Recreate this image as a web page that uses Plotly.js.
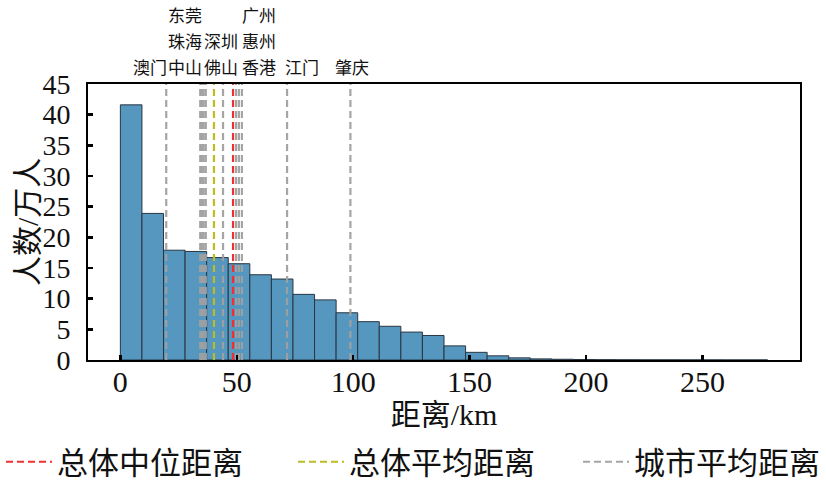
<!DOCTYPE html>
<html>
<head>
<meta charset="utf-8">
<script src="https://cdn.plot.ly/plotly-3.0.1.min.js"></script>
<style>html,body{margin:0;padding:0;background:#fff;}#chart{width:826px;height:486px;}</style>
</head>
<body>
<div id="chart"></div>
<script>
// ---- data ----
var binStart = 0;
var binEnd = 278;
var binCounts = [41.6, 23.9, 17.9, 17.7, 16.7, 15.7, 13.9, 13.2, 10.7, 9.8,
                 7.7, 6.25, 5.5, 4.55, 4.0, 2.3, 1.25, 0.68, 0.35, 0.18,
                 0.12, 0.08, 0.05, 0.03, 0.02, 0.02, 0.01, 0.01, 0.005, 0.005];
var cities = ['澳门', '中山', '珠海', '东莞', '佛山', '深圳', '香港', '惠州', '广州', '江门', '肇庆'];
var cityMeanKm = [19.7, 34.3, 35.0, 35.8, 36.7, 44.1, 49.7, 50.9, 52.2, 71.6, 98.8];
var overallMedianKm = 48.4;
var overallMeanKm = 40.2;
var xTicks = [0, 50, 100, 150, 200, 250];
var yTicks = [0, 5, 10, 15, 20, 25, 30, 35, 40, 45];
var legendNames = ['总体中位距离', '总体平均距离', '城市平均距离'];
var xTitle = '距离/km';
var yTitle = '人数/万人';

// ---- label layout (x in km, row from bottom) ----
var labelPlace = {
  '澳门': [12.6, 0], '中山': [27.6, 0], '佛山': [43.3, 0], '香港': [59.4, 0], '江门': [77.9, 0], '肇庆': [99.6, 0],
  '珠海': [27.6, 1], '深圳': [43.3, 1], '惠州': [59.4, 1],
  '东莞': [27.6, 2], '广州': [59.4, 2]
};

var nb = binCounts.length;
var bw = (binEnd - binStart) / nb;
var centers = binCounts.map(function (_, i) { return binStart + bw * (i + 0.5); });

var FONT = 'Liberation Serif, "Noto Sans CJK SC", serif';
var YMAX = 45;

var traces = [{
  type: 'bar', x: centers, y: binCounts, width: bw,
  marker: { color: '#5597bf', line: { color: '#2a3540', width: 1 } },
  showlegend: false, hoverinfo: 'skip'
}];

cityMeanKm.forEach(function (v, i) {
  traces.push({
    type: 'scatter', mode: 'lines', x: [v, v], y: [0, YMAX],
    line: { color: 'rgba(160,160,160,0.95)', width: 2.2, dash: '7px,4px' },
    name: legendNames[2], legend: 'legend3', showlegend: i === 0, hoverinfo: 'skip'
  });
});
traces.push({
  type: 'scatter', mode: 'lines', x: [overallMeanKm, overallMeanKm], y: [0, YMAX],
  line: { color: '#bcbd22', width: 2.2, dash: '7px,4px' },
  name: legendNames[1], legend: 'legend2', hoverinfo: 'skip'
});
traces.push({
  type: 'scatter', mode: 'lines', x: [overallMedianKm, overallMedianKm], y: [0, YMAX],
  line: { color: '#f03030', width: 2.2, dash: '7px,4px' },
  name: legendNames[0], legend: 'legend', hoverinfo: 'skip'
});

var rowY = [1.055, 1.150, 1.245];
var annotations = cities.map(function (c) {
  var p = labelPlace[c];
  return {
    x: p[0], y: rowY[p[1]], xref: 'x', yref: 'paper', text: c, showarrow: false,
    xanchor: 'center', yanchor: 'middle', font: { family: FONT, size: 17, color: '#111' }
  };
});
annotations.push({
  x: -0.0857, y: 0.5, xref: 'paper', yref: 'paper', text: yTitle, showarrow: false,
  textangle: -90, xanchor: 'center', yanchor: 'middle',
  font: { family: FONT, size: 30, color: '#111' }
});

function legendCfg(xp) {
  return {
    x: xp, y: -0.37, xanchor: 'left', yanchor: 'middle', orientation: 'h',
    bgcolor: 'rgba(0,0,0,0)', borderwidth: 0, itemwidth: 46,
    font: { family: FONT, size: 31, color: '#111' }
  };
}

var axisCommon = {
  showline: true, linecolor: '#000', linewidth: 2, mirror: true,
  ticks: 'inside', ticklen: 5, tickwidth: 2.5, tickcolor: '#000',
  showgrid: false, zeroline: false, automargin: false
};

var layout = {
  width: 826, height: 486,
  margin: { l: 88, r: 26, t: 84, b: 126, autoexpand: false },
  paper_bgcolor: '#fff', plot_bgcolor: '#fff',
  bargap: 0,
  xaxis: Object.assign({}, axisCommon, {
    range: [-13.9, 291.9], tickvals: xTicks, ticktext: xTicks.map(String),
    ticklabelstandoff: -6,
    tickfont: { family: FONT, size: 30, color: '#111' },
    title: { text: xTitle, font: { family: FONT, size: 30, color: '#111' }, standoff: 4 }
  }),
  yaxis: Object.assign({}, axisCommon, {
    range: [0, YMAX], tickvals: yTicks, ticktext: yTicks.map(String),
    ticklabelstandoff: 10,
    tickfont: { family: FONT, size: 28, color: '#111' }
  }),
  legend: legendCfg(-0.1222),
  legend2: legendCfg(0.2879),
  legend3: legendCfg(0.6882),
  annotations: annotations,
  showlegend: true
};

Plotly.newPlot('chart', traces, layout, { staticPlot: true, displayModeBar: false });
</script>
</body>
</html>
